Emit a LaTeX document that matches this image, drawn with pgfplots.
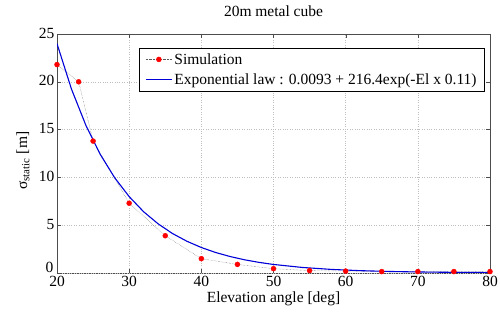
\documentclass[border=0pt]{standalone}
\usepackage{pgfplots}
\pgfplotsset{compat=1.18}
\usepackage{fontspec}
\setmainfont{Liberation Serif}
\begin{document}
\begin{tikzpicture}
\useasboundingbox (-57pt,-39pt) rectangle (443pt,273pt);
\begin{axis}[
  at={(0,0)}, anchor=south west,
  scale only axis,
  width=433pt, height=239pt,
  xmin=20, xmax=80, ymin=0, ymax=25,
  xtick={20,30,...,80}, ytick={5,10,...,25},
  extra y ticks={0},
  extra y tick style={yticklabel style={yshift=5pt, xshift=-1pt}},
  grid=major,
  grid style={dotted, gray!50},
  axis line style={gray!60!black},
  tick style={gray!60!black},
  tick align=inside,
  major tick length=4pt,
  font=\fontsize{15.5}{17}\selectfont,
  /pgf/number format/assume math mode=true,
  title={20m metal cube},
  title style={at={(axis description cs:0.5,1.071)}, anchor=center},
  xlabel={Elevation angle [deg]},
  ylabel={σ\textsubscript{static} [m]},
  xlabel style={at={(axis description cs:0.5,-0.108)}, anchor=center},
  ylabel style={at={(axis description cs:-0.0785,0.47)}, anchor=center},
  yticklabel style={xshift=1pt, yshift=1pt, inner ysep=1pt},
  xticklabel style={yshift=-2pt, inner ysep=1pt},
  legend style={at={(rel axis cs:0.988,0.941)}, anchor=north east, draw=black,
    font=\fontsize{15.5}{17}\selectfont, legend cell align=left, row sep=4pt,
    inner xsep=6pt, inner ysep=3pt},
  legend image code/.code={\draw[mark repeat=2,mark phase=2,#1] plot coordinates {(0pt,0pt) (13pt,0pt) (26pt,0pt)};},
]
\addplot[densely dotted, gray!70!black, mark=*, mark size=2.5pt, mark options={solid, draw=red, fill=red}] coordinates {
(20,21.8) (23,20.0) (25,13.8) (30,7.3) (35,3.9) (40,1.5) (45,0.9) (50,0.45) (55,0.25) (60,0.2) (65,0.15) (70,0.15) (75,0.15) (80,0.15)};
\addlegendentry{Simulation}
\addplot[blue!85!black, line width=1.1pt, no marks] coordinates {
(20,23.99) (22,19.25) (24,15.45) (26,12.40) (28,9.955) (30,7.99) (32,6.41) (34,5.15) (36,4.13) (38,3.32) (40,2.666) (42,2.14) (44,1.72) (46,1.38) (48,1.11) (50,0.894) (54,0.579) (58,0.376) (62,0.245) (66,0.161) (70,0.107) (75,0.066) (80,0.042)};
\addlegendentry{Exponential law : 0.0093 + 216.4exp(-El x 0.11)}
\end{axis}
\end{tikzpicture}
\end{document}
